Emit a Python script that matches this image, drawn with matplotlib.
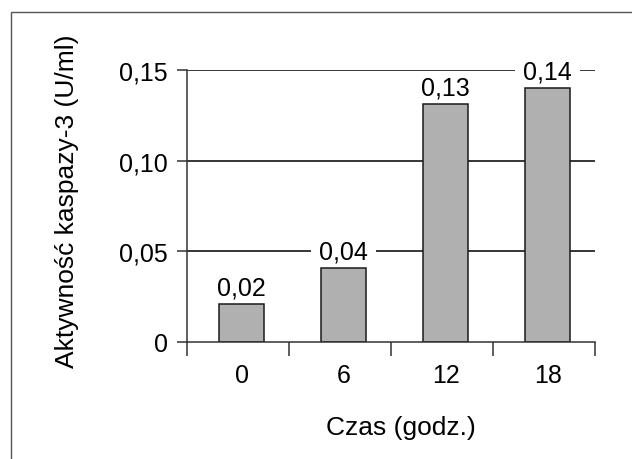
import numpy as np
import matplotlib.pyplot as plt
from matplotlib.patches import Rectangle

plt.rcParams.update({'font.family': ['Liberation Sans', 'DejaVu Sans'], 'font.size': 18})

# data
czas = ['0', '6', '12', '18']
aktywnosc = [0.021, 0.041, 0.131, 0.140]
etykiety = ['0,02', '0,04', '0,13', '0,14']
yticks = [0, 0.05, 0.10, 0.15]
yticklabels = ['0', '0,05', '0,10', '0,15']

fig = plt.figure(figsize=(6.32, 4.6), dpi=100, facecolor='w')
# frame round the figure (right and bottom edges fall outside the picture)
fig.patches.append(Rectangle((11/632, -0.1), 1.2, 1 - 13/460 + 0.1, transform=fig.transFigure,
                             fill=False, edgecolor='#555555', lw=1.0))

ax = fig.add_axes([187/632, 1 - 343/460, 408/632, 272/460])
x = np.arange(len(czas))
shift = 0.035  # bars sit a little right of the middle of each slot

for yv in yticks[1:]:
    ax.axhline(yv, color='black', lw=1.1, zorder=1)
ax.bar(x + shift, aktywnosc, width=0.44, color='#b0b0b0', edgecolor='#1a1a1a', lw=1.1, zorder=2)

# value labels: the white box (widened by spaces) breaks the grid line behind
for xi, v, s in zip(x, aktywnosc, etykiety):
    ax.text(xi + shift, v + 0.0025, ' ' + s + ' ', ha='center', va='bottom', zorder=3, clip_on=False,
            bbox=dict(facecolor='white', edgecolor='none', pad=0.5))

ax.set_xlim(-0.5, 3.5)
ax.set_ylim(0, 0.15)
ax.set_yticks(yticks)
ax.set_yticklabels(yticklabels)
ax.set_xticks(np.arange(-0.5, 4, 1))
ax.set_xticklabels([])
ax.set_xticks(x + shift, minor=True)
ax.set_xticklabels(czas, minor=True)
ax.tick_params(axis='x', which='major', direction='out', length=10, width=1.1, color='#333333')
ax.tick_params(axis='x', which='minor', length=0, pad=15)
ax.tick_params(axis='y', direction='out', length=7, width=1.1, pad=7, color='#333333')

for side in ['top', 'right']:
    ax.spines[side].set_visible(False)
for side in ['left', 'bottom']:
    ax.spines[side].set_linewidth(1.1)
    ax.spines[side].set_color('#333333')

ax.set_xlabel('Czas (godz.)', fontsize=19)
ax.xaxis.set_label_coords((401 - 187) / 408, -(416 - 343) / 272)
ax.set_ylabel('Aktywność kaspazy-3 (U/ml)', fontsize=19)
ax.yaxis.set_label_coords(-(187 - 79) / 408, 0.522)

fig.savefig('out.png', dpi=100)
